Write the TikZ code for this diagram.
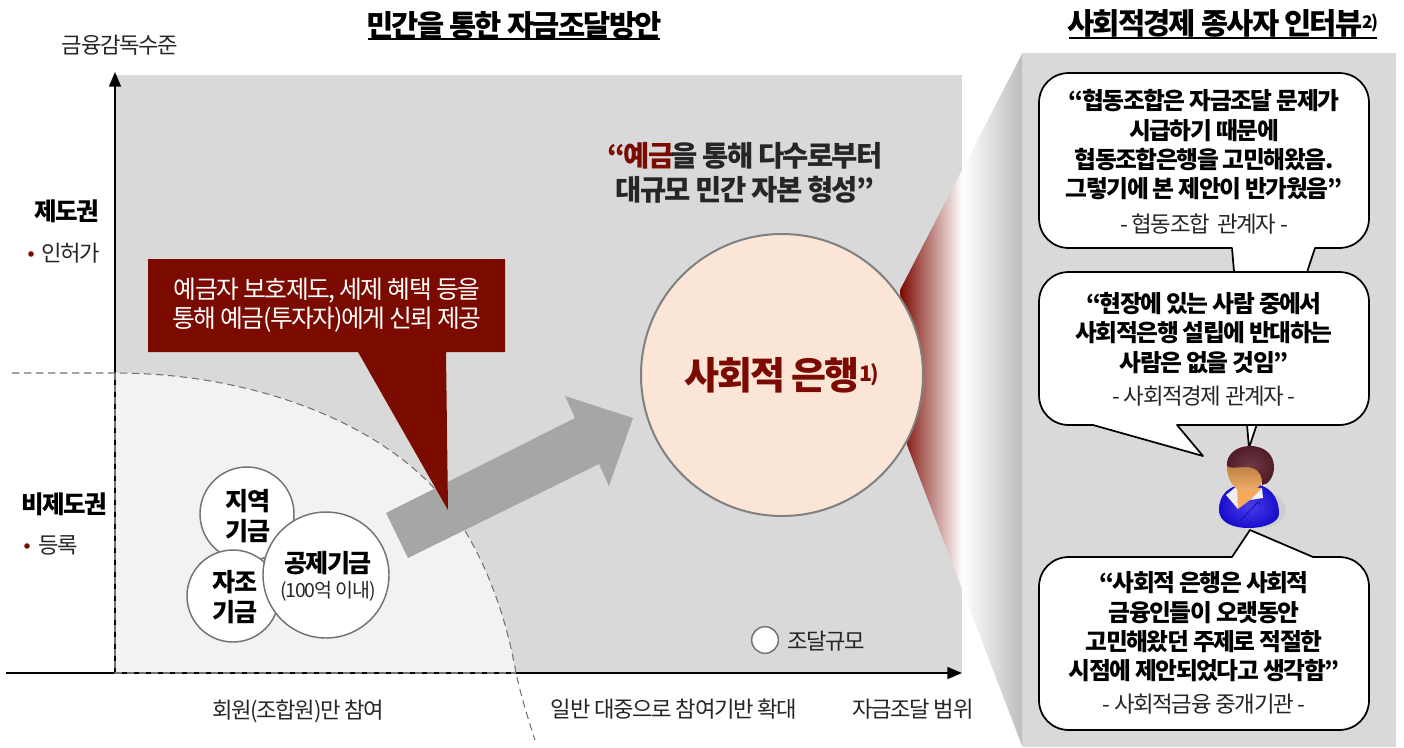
\documentclass[tikz,border=0pt]{standalone}
\usepackage{fontspec}
\setmainfont{Noto Sans CJK KR}[LetterSpace=-6]
\usetikzlibrary{arrows.meta}
\definecolor{panelgray}{HTML}{D9D9D9}
\definecolor{lightarea}{HTML}{F2F2F2}
\definecolor{dred}{HTML}{7B0A00}
\definecolor{arrowgray}{HTML}{A6A6A6}
\definecolor{peach}{HTML}{FBE5D6}
\definecolor{wedgeend}{HTML}{BDBDBD}
\definecolor{hairc}{HTML}{4F1C28}
\definecolor{hairl}{HTML}{6E3A44}
\definecolor{bodya}{HTML}{4A3EF0}
\definecolor{bodyb}{HTML}{1A0ECC}
\definecolor{facea}{HTML}{B9793F}
\definecolor{faceb}{HTML}{F2B26A}
\pgfdeclarehorizontalshading{wedgeshade}{100bp}{color(0bp)=(dred); color(25bp)=(dred); color(50.4bp)=(white); color(75bp)=(wedgeend); color(100bp)=(wedgeend)}
\newcommand\bubpath[4]{(1069,#1) #3 -- (1339,#1) .. controls (1356,#1) and (1369,#1+13) .. (1369,#1+30) -- (1369,#2-30) .. controls (1369,#2-13) and (1356,#2) .. (1339,#2) #4 -- (1069,#2) .. controls (1052,#2) and (1039,#2-13) .. (1039,#2-30) -- (1039,#1+30) .. controls (1039,#1+13) and (1052,#1) .. (1069,#1) -- cycle}
\tikzset{
  x=0.75pt,y=-0.75pt,
  plain/.style={inner sep=0pt,align=center,text=black!85},
  title/.style={plain,font=\bfseries\fontsize{22.2}{26}\selectfont,text=black},
  axislabel/.style={plain,font=\fontsize{16.7}{20}\selectfont},
  zone/.style={plain,font=\bfseries\fontsize{18.4}{22}\selectfont,text=black},
  fundlabel/.style={plain,font=\bfseries\fontsize{18.8}{22.5}\selectfont,text=black},
  quote/.style={plain,font=\bfseries\fontsize{17.8}{22}\selectfont,text=black},
  who/.style={plain,font=\fontsize{16.8}{20}\selectfont},
  bubble/.style={draw=black,line width=1.3pt,fill=white,line join=round},
  fund/.style={circle,draw=black!55,line width=1.1pt,fill=white,inner sep=0pt,align=center},
  dashline/.style={draw=black!55,line width=0.8pt,dash pattern=on 5.5pt off 3.5pt},
  axis/.style={draw=black,line width=1.3pt,-{Triangle[length=11pt,width=9pt]}},
}
\begin{document}
\begin{tikzpicture}
\useasboundingbox (0,0) rectangle (1404,747);
% main fields
\fill[panelgray] (115,75) rectangle (962,673);
\fill[lightarea] (115,373) .. controls (250,373) and (370,420) .. (433,487) .. controls (480,540) and (505,610) .. (516,673) -- (115,673) -- cycle;
% right panel and wedge
\fill[panelgray] (1023,53) rectangle (1396,747);
\shade[shading=wedgeshade] (900,290) -- (1022.5,53) -- (1022.5,747) -- (907,445) -- cycle;
% axes
\coordinate (orig) at (115,673);
\coordinate (ytop) at (115,72);
\coordinate (xleft) at (6,673);
\coordinate (xright) at (962,673);
\draw[axis] (orig) -- (ytop);
\draw[axis] (xleft) -- (xright);
% dashed boundary
\draw[dashline] (12,373) -- (115,373) .. controls (250,373) and (370,420) .. (433,487) .. controls (480,540) and (505,610) .. (516,673) .. controls (522,700) and (530,725) .. (535,740);
\draw[dashline] (115,373) -- (115,673) -- (516,673);
% block arrow
\fill[arrowgray] (386,513) -- (575,418) -- (565,396) -- (633,418) -- (609,486) -- (599,464) -- (408,558) -- cycle;
% callout
\fill[dred] (148,259) -- (505,259) -- (505,352) -- (446,352) -- (448,510) -- (358,352) -- (148,352) -- cycle;
\node[plain,text=white,font=\fontsize{18.6}{21.5}\selectfont] (calltext) at (327,305) {예금자 보호제도, 세제 혜택 등을\\통해 예금(투자자)에게 신뢰 제공};
% funds
\node[fund,minimum size=70.5pt] (jiyeok) at (247,514) {};
\node[fund,minimum size=69pt] (jajo) at (233,596) {};
\node[fund,minimum size=94.5pt] (gongje) at (326,575) {};
\node[fundlabel] (jiyeokt) at (248,516) {지역\\기금};
\node[fundlabel] (jajot) at (235,597) {자조\\기금};
\node[fundlabel] (gongjet) at (328,563) {공제기금};
\node[plain,font=\fontsize{14.6}{18}\selectfont] (gongjes) at (328,591) {(100억 이내)};
% big circle
\node[circle,draw=black!50,line width=1.5pt,fill=peach,minimum size=211.5pt,inner sep=0pt,text=dred,font=\bfseries\fontsize{28.5}{32}\selectfont] (bank) at (782,375) {사회적 은행\raisebox{0.2em}{\fontsize{16}{16}\selectfont 1)}};
\node[plain,font=\bfseries\fontsize{21.4}{25.5}\selectfont,text=black!85] (headline) at (745,173) {{\color{dred}“예금}\kern-2pt 을 통해 다수로부터\\대규모 민간 자본 형성”};
% legend
\node[fund,minimum size=20pt] (legend) at (765,640) {};
\node[axislabel] (legendt) at (826,641) {조달규모};
% titles
\node[title] (t1) at (514,25) {민간을 통한 자금조달방안};
\draw[line width=1.2pt] (368,39) -- (660,39);
\node[title] (t2) at (1223,23) {사회적경제 종사자 인터뷰\raisebox{0.2em}{\fontsize{13}{13}\selectfont 2)}};
\draw[line width=1.2pt] (1069,38) -- (1377,38);
% axis labels
\node[axislabel] (yl) at (120,45) {금융감독수준};
\node[zone] (z1) at (67,211) {제도권};
\node[axislabel] (z1s) at (71,253) {인허가};
\fill[dred] (31,254) circle[radius=2.8];
\node[zone] (z2) at (64,504) {비제도권};
\node[axislabel] (z2s) at (58,545) {등록};
\fill[dred] (27,546) circle[radius=2.8];
\node[axislabel] (x1) at (298,711) {회원(조합원)만 참여};
\node[axislabel] (x2) at (674,709) {일반 대중으로 참여기반 확대};
\node[axislabel] (x3) at (913,709) {자금조달 범위};
% bubbles
\draw[bubble] \bubpath{73}{248}{}{-- (1315,248) -- (1249,448) -- (1232,248)};
\draw[bubble] \bubpath{272}{425}{}{-- (1177,425) -- (1203,456) -- (1093,425)};
\draw[bubble] \bubpath{557}{730}{-- (1232,557) -- (1250,530) -- (1313,557)}{};
\node[quote] (q1) at (1204,145) {“협동조합은 자금조달 문제가\\시급하기 때문에\\협동조합은행을 고민해왔음.\\그렇기에 본 제안이 반가웠음”};
\node[who] (w1) at (1204,224) {- 협동조합 \ 관계자 -};
\node[quote] (q2) at (1204,333) {“현장에 있는 사람 중에서\\사회적은행 설립에 반대하는\\사람은 없을 것임”};
\node[who] (w2) at (1204,396) {- 사회적경제 관계자 -};
\node[quote] (q3) at (1204,627) {“사회적 은행은 사회적\\금융인들이 오랫동안\\고민해왔던 주제로 적절한\\시점에 제안되었다고 생각함”};
\node[who] (w3) at (1204,704) {- 사회적금융 중개기관 -};
% person
\fill[black!22,opacity=.6] (1262,510) ellipse[x radius=24,y radius=18];
\shade[inner color=bodya,outer color=bodyb] (1219,510) .. controls (1219,495) and (1228,484) .. (1250,484) .. controls (1270,484) and (1279,497) .. (1279,514) .. controls (1279,522) and (1265,528) .. (1249,528) .. controls (1232,528) and (1219,522) .. (1219,510) -- cycle;
\fill[faceb!85!orange] (1236,486) -- (1262,488) -- (1250,500) -- (1238,509) -- cycle;
\fill[black!6] (1226,495) -- (1237,486) -- (1238,509) -- cycle;
\fill[black!6] (1250,500) -- (1262,488) -- (1263,498) -- cycle;
\draw[bodyb!70!black,line width=.5pt] (1241,520) -- (1258,502) -- (1261,505);
\shade[top color=facea,bottom color=faceb] (1227,464) .. controls (1240,464) and (1256,462) .. (1264,470) .. controls (1265,484) and (1256,492) .. (1246,492) .. controls (1235,492) and (1226,480) .. (1227,464) -- cycle;
\shade[inner color=hairl,outer color=hairc] (1227,466) .. controls (1226,454) and (1237,446) .. (1250,446) .. controls (1266,446) and (1274,456) .. (1274,467) .. controls (1274,477) and (1268,485) .. (1262,485) .. controls (1263,478) and (1260,470) .. (1252,468) .. controls (1243,465) and (1234,470) .. (1227,466) -- cycle;
\end{tikzpicture}
\end{document}
